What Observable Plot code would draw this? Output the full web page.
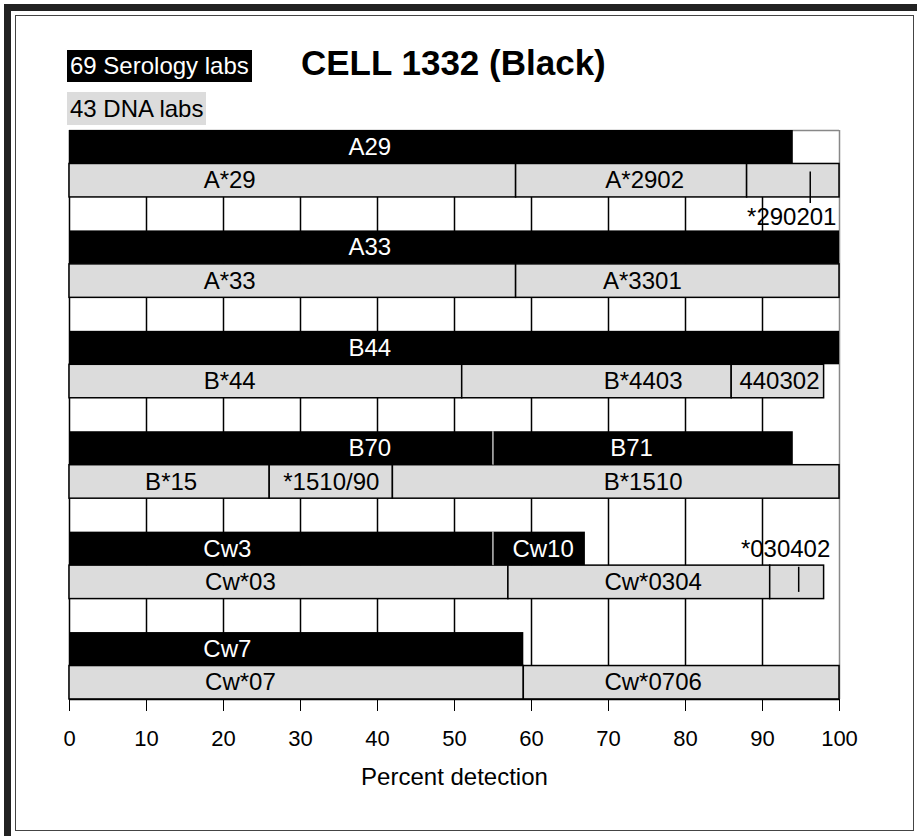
<!DOCTYPE html>
<html><head><meta charset="utf-8">
<script src="https://cdn.jsdelivr.net/npm/d3@7"></script>
<script src="https://cdn.jsdelivr.net/npm/@observablehq/plot@0.6"></script>
<style>
html,body{margin:0;padding:0;background:#fff;overflow:hidden;}
#page{position:relative;width:917px;height:836px;font-family:"Liberation Sans",Arial,sans-serif;}
#chart{position:absolute;left:0;top:0;}
.band-top{position:absolute;left:4px;top:4px;width:913px;height:7px;background:#222;}
.band-left{position:absolute;left:4px;top:4px;width:7px;height:832px;background:#222;}
.inner{position:absolute;left:15px;top:15px;width:899px;height:816px;border:1.5px solid #444;box-sizing:border-box;}
.sero{position:absolute;left:67px;top:50px;height:32px;line-height:32px;padding:0 3px;background:#000;color:#fff;font-size:24px;white-space:nowrap;}
.dna{position:absolute;left:67px;top:92px;height:33px;line-height:33px;padding:0 3px;background:#dcdcdc;color:#000;font-size:24px;white-space:nowrap;}
.title{position:absolute;left:301px;top:45px;font-size:35px;line-height:35px;font-weight:bold;white-space:nowrap;}
</style>
</head>
<body>
<div id="page">
  <div class="band-top"></div>
  <div class="band-left"></div>
  <div class="inner"></div>
  <div id="chart"></div>
  <div class="sero">69 Serology labs</div>
  <div class="dna">43 DNA labs</div>
  <div class="title">CELL 1332 (Black)</div>
</div>
<script>
// ---- data ----
const xTicks = [0, 10, 20, 30, 40, 50, 60, 70, 80, 90, 100];
const xLabel = "Percent detection";

// Serology (black) segments
const seroLabels  = ["A29", "A33", "B44", "B70", "B71", "Cw3", "Cw10", "Cw7"];
const seroGroup   = [0, 1, 2, 3, 3, 4, 4, 5];
const seroStart   = [0, 0, 0, 0, 55, 0, 55, 0];
const seroEnd     = [94, 100, 100, 55, 94, 55, 67, 59];
const seroLabelAt = [39, 39, 39, 39, 73, 20.5, 61.5, 20.5];

// DNA (grey) segments
const dnaLabels  = ["A*29", "A*2902", "*290201", "A*33", "A*3301", "B*44", "B*4403", "440302",
                    "B*15", "*1510/90", "B*1510", "Cw*03", "Cw*0304", "*030402", "Cw*07", "Cw*0706"];
const dnaGroup   = [0, 0, 0, 1, 1, 2, 2, 2, 3, 3, 3, 4, 4, 4, 5, 5];
const dnaStart   = [0, 58, 88, 0, 58, 0, 51, 86, 0, 26, 42, 0, 57, 91, 0, 59];
const dnaEnd     = [58, 88, 100, 58, 100, 51, 86, 98, 26, 42, 100, 57, 91, 98, 59, 100];
const dnaLabelAt = [20.8, 74.7, 93.8, 20.8, 74.4, 20.8, 74.5, 92.2, 13.2, 34, 74.5, 22.2, 75.8, 93, 22.2, 75.8];

// Callout labels (placed outside their narrow segment with a pointer line)
const calloutLabels  = ["*290201", "*030402"];
const calloutPointer = [96.2, 94.7];
const calloutSide    = ["below", "above"];

// ---- build tables ----
const nRows = 17;
const sero = seroLabels.map((label, i) => ({
  label, row: 3 * seroGroup[i], x1: seroStart[i], x2: seroEnd[i], at: seroLabelAt[i]
}));
const dna = dnaLabels.map((label, i) => {
  const ci = calloutLabels.indexOf(label);
  return {label, row: 3 * dnaGroup[i] + 1, x1: dnaStart[i], x2: dnaEnd[i], at: dnaLabelAt[i],
          side: ci >= 0 ? calloutSide[ci] : "in", pointer: ci >= 0 ? calloutPointer[ci] : null};
});
const callouts = dna.filter(d => d.side !== "in");

const plot = Plot.plot({
  width: 917,
  height: 836,
  marginLeft: 69,
  marginRight: 78,
  marginTop: 130,
  marginBottom: 137,
  style: {background: "none", fontFamily: "'Liberation Sans', Arial, sans-serif", fontSize: "22px", color: "#000"},
  x: {domain: [0, 100], ticks: xTicks, tickSize: 12, tickPadding: 19, label: null, tickFormat: d => String(d)},
  y: {domain: [0, nRows], reverse: true, axis: null},
  marks: [
    Plot.ruleX(xTicks.filter(t => t > 0 && t < 100), {stroke: "#000", strokeWidth: 1.5}),
    Plot.ruleX([100], {stroke: "#888", strokeWidth: 1.5}),
    Plot.ruleY([0], {stroke: "#888", strokeWidth: 1.5}),
    Plot.ruleX([0], {stroke: "#000", strokeWidth: 1.5}),
    Plot.rect(sero, {x1: "x1", x2: "x2", y1: "row", y2: d => d.row + 1, fill: "#000"}),
    Plot.rect(dna, {x1: "x1", x2: "x2", y1: "row", y2: d => d.row + 1, fill: "#dcdcdc", stroke: "#000", strokeWidth: 1.5}),
    Plot.ruleX(sero.filter(d => d.x1 > 0), {x: "x1", y1: "row", y2: d => d.row + 1, stroke: "#fff", strokeWidth: 1}),
    Plot.ruleX(callouts, {x: "pointer",
      y1: d => d.side === "below" ? d.row + 0.24 : d.row + 0.05,
      y2: d => d.side === "below" ? d.row + 1.18 : d.row + 0.8,
      stroke: "#000", strokeWidth: 1.5}),
    Plot.text(sero, {x: "at", y: d => d.row + 0.5, text: "label", fill: "#fff", fontSize: 24}),
    Plot.text(dna, {x: "at",
      y: d => d.side === "below" ? d.row + 1.58 : d.side === "above" ? d.row - 0.5 : d.row + 0.5,
      text: "label", fill: "#000", fontSize: 24}),
    Plot.ruleY([nRows], {stroke: "#000", strokeWidth: 1.5}),
    Plot.text([xLabel], {frameAnchor: "bottom", dy: 85, fontSize: 24, fill: "#000"})
  ]
});
document.getElementById("chart").appendChild(plot);
</script>
</body></html>
